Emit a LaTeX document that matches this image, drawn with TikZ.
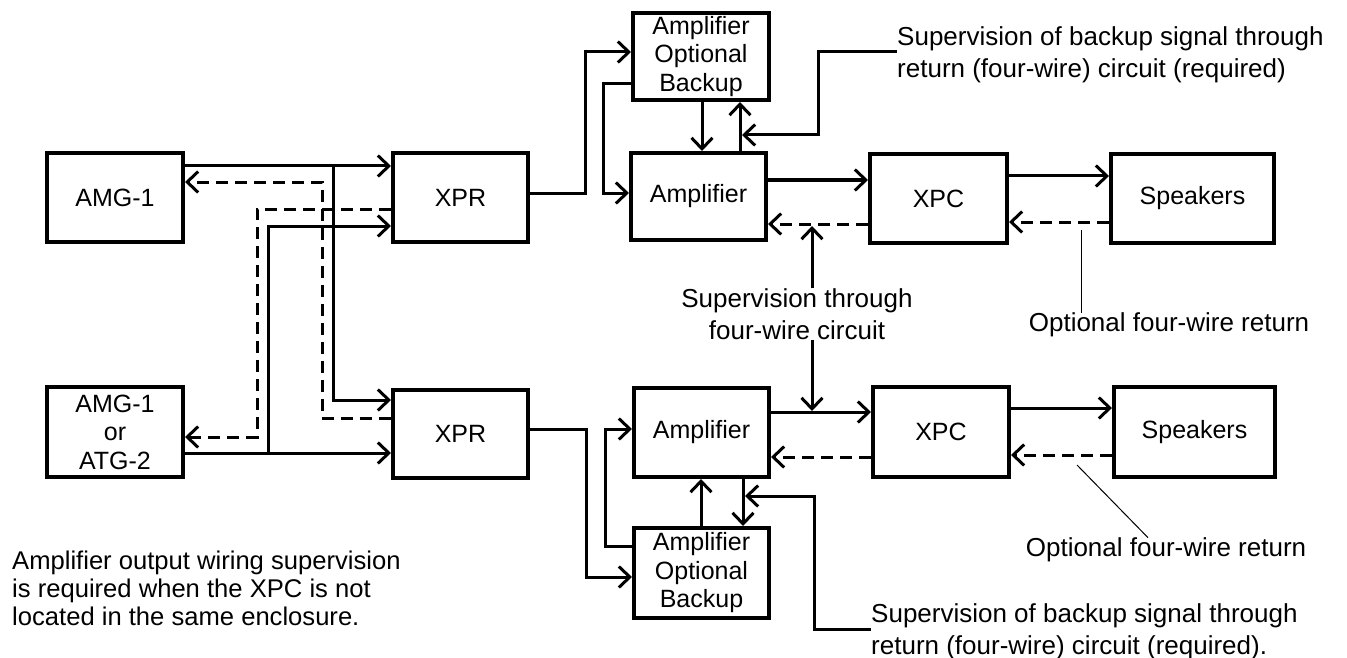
\documentclass[tikz,border=0pt]{standalone}
\usepackage{fontspec}
\setmainfont{Liberation Sans}
\usetikzlibrary{arrows.meta}
\begin{document}
\begin{tikzpicture}[x=1pt,y=-1pt,
  box/.style={draw,line width=4pt,inner sep=0pt,align=center,font=\fontsize{25}{28.5}\selectfont},
  wire/.style={line width=3pt},
  ret/.style={line width=3pt,dash pattern=on 12pt off 7pt},
  lead/.style={line width=1pt},
  lbl/.style={inner sep=0pt,align=left,font=\fontsize{26}{32}\selectfont},
  >={Straight Barb[length=11pt,width=21pt]}]
\useasboundingbox (0,0) rectangle (1347,658);

% boxes
\node[box,minimum width=136pt,minimum height=89pt] (amg1) at (115,197.5) {AMG-1};
\node[box,minimum width=136pt,minimum height=90pt] (amg2) at (115,432) {AMG-1\\or\\ATG-2};
\node[box,minimum width=135pt,minimum height=89pt] (xprt) at (460.5,197.5) {XPR};
\node[box,minimum width=135pt,minimum height=88pt] (xprb) at (460.5,434) {XPR};
\node[box,minimum width=136pt,minimum height=87pt] (bkt) at (701,56.5) {Amplifier\\Optional\\Backup};
\node[box,minimum width=135pt,minimum height=87pt] (ampt) at (698.5,196.5) {Amplifier};
\node[box,minimum width=137pt,minimum height=89pt] (xpct) at (938.5,198.5) {XPC};
\node[box,minimum width=163pt,minimum height=89pt] (spkt) at (1192.5,198.5) {Speakers};
\node[box,minimum width=135pt,minimum height=89pt] (ampb) at (701.5,432.5) {Amplifier};
\node[box,minimum width=135pt,minimum height=90pt] (bkb) at (701.5,573) {Amplifier\\Optional\\Backup};
\node[box,minimum width=136pt,minimum height=90pt] (xpcb) at (941,432) {XPC};
\node[box,minimum width=161pt,minimum height=90pt] (spkb) at (1194.5,432) {Speakers};

% labels
\node[lbl,anchor=west] (supt) at (897,55) {Supervision of backup signal through\\return (four-wire) circuit (required)};
\node[lbl,anchor=west] (supb) at (871,632) {Supervision of backup signal through\\return (four-wire) circuit (required).};
\node[lbl,align=center] (supm) at (797,314) {Supervision through\\four-wire circuit};
\node[lbl] (optt) at (1169,325) {Optional four-wire return};
\node[lbl] (optb) at (1166,550) {Optional four-wire return};
\node[lbl,anchor=west,font=\fontsize{25.6}{28}\selectfont] (note) at (12,588) {Amplifier output wiring supervision\\is required when the XPC is not\\located in the same enclosure.};

% left wiring
\coordinate (ja) at (333,166);
\coordinate (jb) at (268,453);
\draw[wire,->] (amg1.east |- 0,166) -- (xprt.west |- 0,166);
\draw[wire,->] (ja) |- (xprb.west |- 0,400);
\draw[ret,->] (xprb.west |- 0,418) -| (322,182) -- (amg1.east |- 0,182);
\draw[ret,->] (xprt.west |- 0,209) -| (257,437) -- (amg2.east |- 0,437);
\draw[wire,->] (amg2.east |- 0,453) -- (xprb.west |- 0,453);
\draw[wire,->] (jb) |- (xprt.west |- 0,226);

% top amplifier section
\draw[wire,->] (xprt.east |- 0,193) -- (585,193) |- (bkt.west |- 0,52);
\draw[wire,->] (bkt.west |- 0,84) -- (603,84) |- (ampt.west |- 0,193);
\draw[wire,->] (bkt.south -| 702,0) -- (ampt.north -| 702,0);
\draw[wire,->] (ampt.north -| 740,0) -- (bkt.south -| 740,0);
\coordinate (ta) at (742,135);
\draw[wire,->] (supt.west |- 0,52) -- (818,52) |- (ta);
\draw[wire,->] (ampt.east |- 0,180) -- (xpct.west |- 0,180);
\draw[ret,->] (xpct.west |- 0,224) -- (ampt.east |- 0,224);
\draw[wire,->] (xpct.east |- 0,176) -- (spkt.west |- 0,176);
\draw[ret,->] (spkt.west |- 0,222) -- (xpct.east |- 0,222);

% middle supervision
\coordinate (tm1) at (812,226);
\coordinate (tm2) at (812,411);
\draw[wire,->] (supm.north -| tm1) -- (tm1);
\draw[wire,->] (supm.south -| tm2) -- (tm2);
\coordinate (lt) at (1081,230);
\draw[lead] (lt) -- (optt.north -| lt);

% bottom amplifier section
\draw[wire,->] (ampb.east |- 0,412) -- (xpcb.west |- 0,412);
\draw[ret,->] (xpcb.west |- 0,457) -- (ampb.east |- 0,457);
\draw[wire,->] (xpcb.east |- 0,408) -- (spkb.west |- 0,408);
\draw[ret,->] (spkb.west |- 0,455) -- (xpcb.east |- 0,455);
\coordinate (lb) at (1077,465);
\draw[lead] (lb) -- (optb.north -| 1148,0);
\draw[wire,->] (xprb.east |- 0,429) -- (586,429) |- (bkb.west |- 0,577);
\draw[wire,->] (bkb.west |- 0,546) -- (605,546) |- (ampb.west |- 0,429);
\draw[wire,->] (bkb.north -| 701,0) -- (ampb.south -| 701,0);
\draw[wire,->] (ampb.south -| 743,0) -- (bkb.north -| 743,0);
\coordinate (tb) at (745,496);
\draw[wire,->] (supb.west |- 0,629) -- (814,629) |- (tb);
\end{tikzpicture}
\end{document}
